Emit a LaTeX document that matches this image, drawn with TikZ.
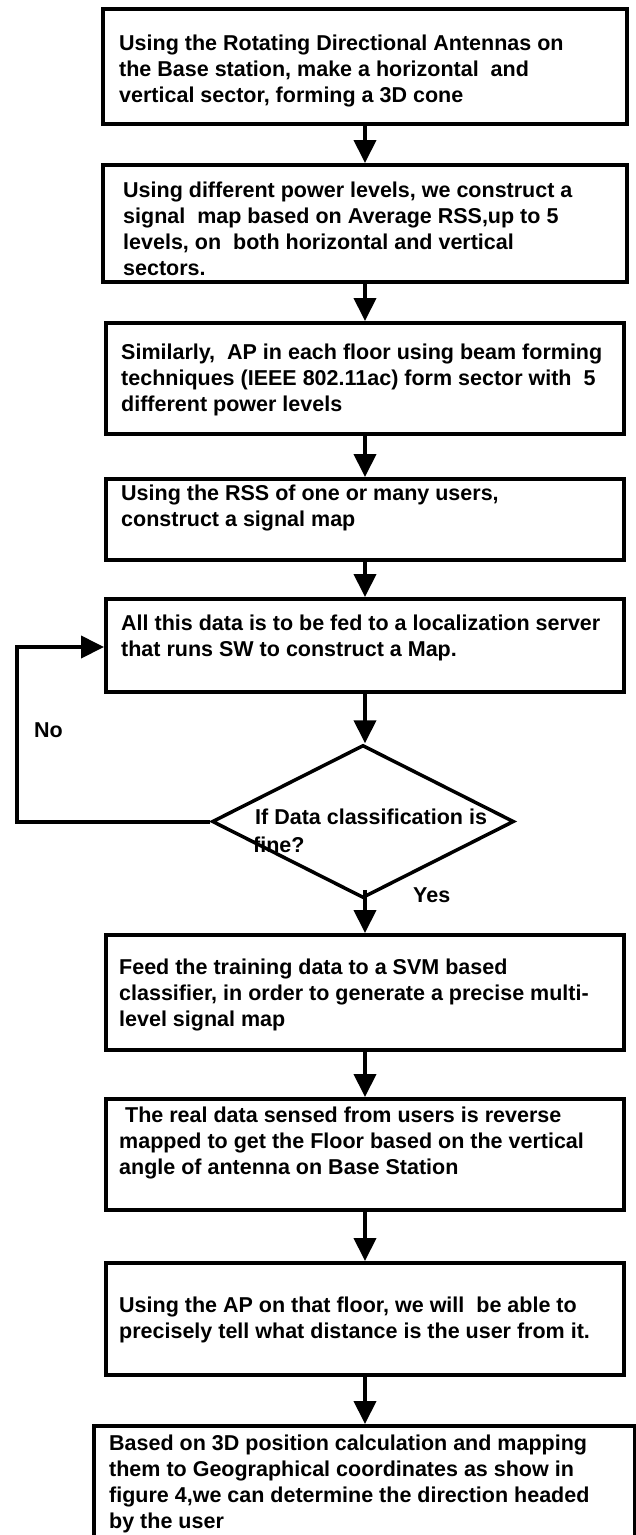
\documentclass[tikz,border=0pt]{standalone}
\usepackage{fontspec}
\setmainfont{Liberation Sans}
\usetikzlibrary{arrows.meta,shapes.geometric}
\begin{document}
\begin{tikzpicture}[x=1pt,y=-1pt,
  box/.style={draw=black, line width=4pt, rectangle, inner sep=0pt, anchor=north west},
  txt/.style={font=\fontsize{21.5}{26}\selectfont\bfseries, align=left, anchor=north west, inner sep=0pt},
  lbl/.style={font=\fontsize{21.5}{26}\selectfont\bfseries, anchor=west, inner sep=0pt},
  flow/.style={line width=4pt, -{Triangle[width=22pt,length=23pt]}},
  decision/.style={draw=black, line width=3.5pt, diamond, inner sep=0pt, aspect=1.97, minimum width=302pt, minimum height=153pt}
  ]
\useasboundingbox (0,0) rectangle (635,1535);
% boxes
\node[box, minimum width=524pt, minimum height=115pt] (b1) at (101,7) {};
\node[box, minimum width=524pt, minimum height=117pt] (b2) at (101,163) {};
\node[box, minimum width=518pt, minimum height=111pt] (b3) at (104,321) {};
\node[box, minimum width=518pt, minimum height=81pt] (b4) at (104,477) {};
\node[box, minimum width=518pt, minimum height=93pt] (b5) at (104,597) {};
\node[decision] (d) at (363,821.5) {};
\node[box, minimum width=518pt, minimum height=115pt] (b6) at (104,933) {};
\node[box, minimum width=518pt, minimum height=111pt] (b7) at (104,1097) {};
\node[box, minimum width=518pt, minimum height=112pt] (b8) at (104,1261) {};
\node[box, minimum width=541pt, minimum height=125pt] (b9) at (92,1424) {};
% texts
\node[txt] (t1) at (119,35) {Using the Rotating Directional Antennas on\\the Base station, make a horizontal\ \ and\\vertical sector, forming a 3D cone};
\node[txt] (t2) at (123,182) {Using different power levels, we construct a\\signal\ \ map based on Average RSS,up to 5\\levels, on\ \ both horizontal and vertical\\sectors.};
\node[txt] (t3) at (121,344) {Similarly,\ \ AP in each floor using beam forming\\techniques (IEEE 802.11ac) form sector with\ \ 5\\different power levels};
\node[txt] (t4) at (121,485) {Using the RSS of one or many users,\\construct a signal map};
\node[txt] (t5) at (121,615) {All this data is to be fed to a localization server\\that runs SW to construct a Map.};
\node[txt] (td) at (255,809) {If Data classification is\\[2pt]\hspace{-2pt}fine?};
\node[txt] (t6) at (119,959) {Feed the training data to a SVM based\\classifier, in order to generate a precise multi-\\level signal map};
\node[txt] (t7) at (119,1107) {\ The real data sensed from users is reverse\\mapped to get the Floor based on the vertical\\angle of antenna on Base Station};
\node[txt] (t8) at (119,1297) {Using the AP on that floor, we will\ \ be able to\\precisely tell what distance is the user from it.};
\node[txt] (t9) at (109,1435) {Based on 3D position calculation and mapping\\them to Geographical coordinates as show in\\figure 4,we can determine the direction headed\\by the user};
% labels
\node[lbl] (no) at (34,730) {No};
\node[lbl] (yes) at (413,895) {Yes};
% connectors
\draw[flow] (b1.south) -- (b2.north);
\draw[flow] (b2.south) -- (b3.north);
\draw[flow] (b3.south) -- (b4.north);
\draw[flow] (b4.south) -- (b5.north);
\draw[flow] (b5.south) -- (b5.south |- d.north);
\draw[flow] ([yshift=10pt]b6.north |- d.south) -- (b6.north);
\draw[flow] (b6.south) -- (b7.north);
\draw[flow] (b7.south) -- (b8.north);
\draw[flow] (b8.south) -- (b8.south |- b9.north);
\coordinate (fl) at (17,821.5);
\coordinate (fu) at (17,647);
\draw[flow] (d.west) -- (fl) -- (fu) -- (fu -| b5.west);
\end{tikzpicture}
\end{document}
